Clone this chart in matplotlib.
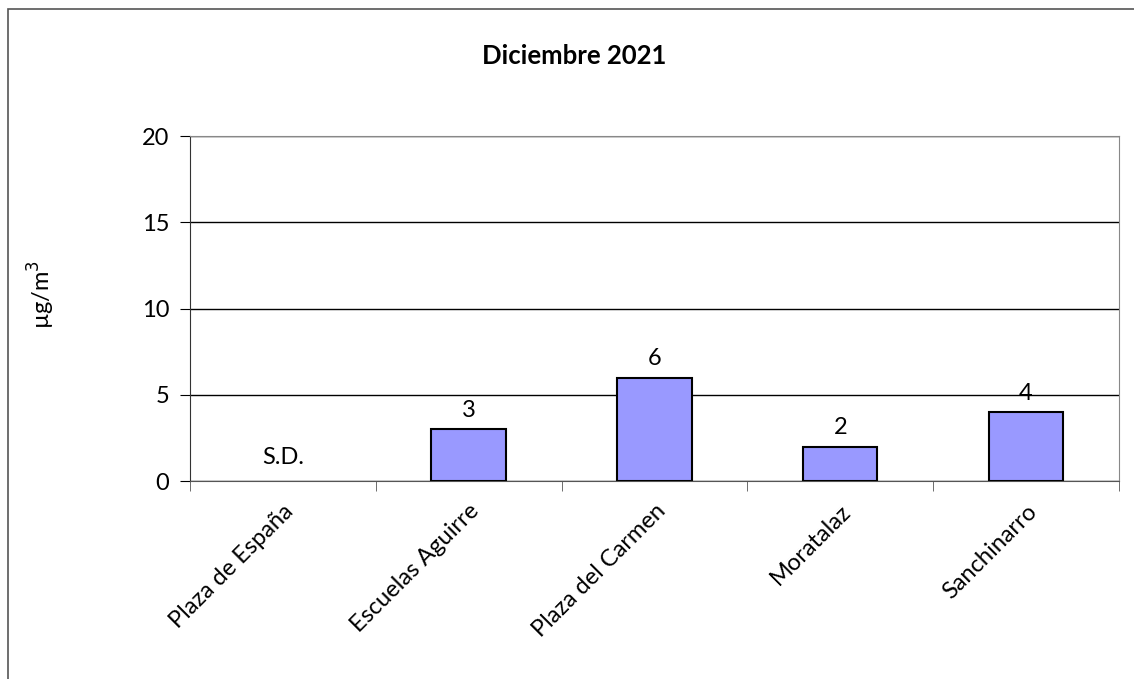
import numpy as np
import matplotlib.pyplot as plt
from matplotlib.patches import Rectangle

# chart data
stations = ["Plaza de España", "Escuelas Aguirre", "Plaza del Carmen", "Moratalaz", "Sanchinarro"]
values = [np.nan, 3, 6, 2, 4]
missing_label = "S.D."
y_ticks = [0, 5, 10, 15, 20]

plt.rcParams['font.family'] = ['Lato', 'DejaVu Sans']
FS = 17

fig = plt.figure(figsize=(11.34, 6.79), dpi=100)
ax = fig.add_axes([0.1675, 0.2916, 0.8192, 0.508])

# outer frame (only top/left show, like the source export)
fig.patches.append(Rectangle((8 / 1134, -0.1), 1.2, 1 - 9 / 679 + 0.1,
                             transform=fig.transFigure, fill=False,
                             edgecolor="#555555", linewidth=1.2))

x = np.arange(len(stations))
has_data = ~np.isnan(values)
ax.bar(x[has_data], np.array(values)[has_data], width=0.4, color="#9999FF",
       edgecolor="black", linewidth=1.5, zorder=3)

for xi, v in zip(x, values):
    if np.isnan(v):
        ax.text(xi, 0.75, missing_label, ha="center", va="bottom", fontsize=FS)
    else:
        ax.annotate(f"{v:g}", (xi, v), xytext=(0, 6), textcoords="offset points",
                    ha="center", va="bottom", fontsize=FS)

ax.set_xlim(-0.5, len(stations) - 0.5)
ax.set_ylim(0, 20)
ax.set_yticks(y_ticks)
ax.yaxis.grid(True, color="black", linewidth=1)
ax.set_axisbelow(True)

ax.set_xticks(x)
ax.set_xticklabels(stations, rotation=45, ha="right", rotation_mode="anchor", fontsize=FS)
ax.set_xticks(np.arange(len(stations) + 1) - 0.5, minor=True)
ax.tick_params(axis="x", which="major", length=0, pad=14)
ax.tick_params(axis="x", which="minor", length=7, direction="out", color="#555555")
ax.tick_params(axis="y", length=7, direction="out", labelsize=FS, pad=8)

for side in ["top", "right"]:
    ax.spines[side].set_color("#888888")
ax.spines["left"].set_color("#333333")
ax.spines["bottom"].set_color("#555555")

ax.set_ylabel("µg/m$^3$", fontsize=FS)
ax.yaxis.set_label_coords(-0.143, 0.54)
fig.text(0.506, 0.918, "Diciembre 2021", ha="center", va="center", fontsize=18.5, fontweight="bold")

fig.savefig("out.png", dpi=100)
